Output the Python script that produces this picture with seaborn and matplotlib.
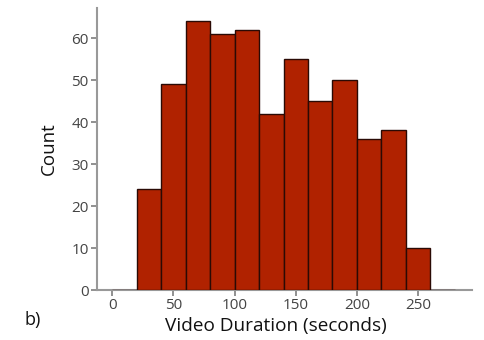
import matplotlib
matplotlib.use("Agg")
import matplotlib.pyplot as plt
import numpy as np
import seaborn as sns

# histogram counts, 20 s bins from 0 to 280
bin_edges = [0, 20, 40, 60, 80, 100, 120, 140, 160, 180, 200, 220, 240, 260, 280]
counts = [0, 24, 49, 64, 61, 62, 42, 55, 45, 50, 36, 38, 10, 0]
bin_left = bin_edges[:-1]

sns.set_style("ticks")
plt.rcParams['font.family'] = ['Open Sans', 'DejaVu Sans']

fig = plt.figure(figsize=(4.85, 3.4), dpi=100)
ax = fig.add_axes([0.2, 0.147, 0.773, 0.83])

sns.histplot(x=bin_left, weights=counts, bins=bin_edges, ax=ax,
             color="#b02200", alpha=1.0, edgecolor="#2a0a05", linewidth=1.0)
# draw bars above spines so the empty bins show as flat lines
for p in ax.patches:
    p.set_zorder(3)

ax.set_xlim(-12.5, 294)
ax.set_xticks([0, 50, 100, 150, 200, 250])
ax.set_yticks([0, 10, 20, 30, 40, 50, 60])
ax.set_xlabel("Video Duration (seconds)", fontsize=13.7, color="#111111")
ax.set_ylabel("Count", fontsize=13.5, color="#111111", labelpad=10)
ax.xaxis.set_label_coords(0.478, -0.095)
ax.tick_params(colors="#888888", labelcolor="#444444", labelsize=11, width=1.3, length=4, pad=2)
for side in ["top", "right"]:
    ax.spines[side].set_visible(False)
for side in ["left", "bottom"]:
    ax.spines[side].set_color("#999999")
    ax.spines[side].set_linewidth(1.5)

fig.text(0.05, 0.045, "b)", fontsize=13, color="#111111")

fig.savefig("out.png", dpi=100)
